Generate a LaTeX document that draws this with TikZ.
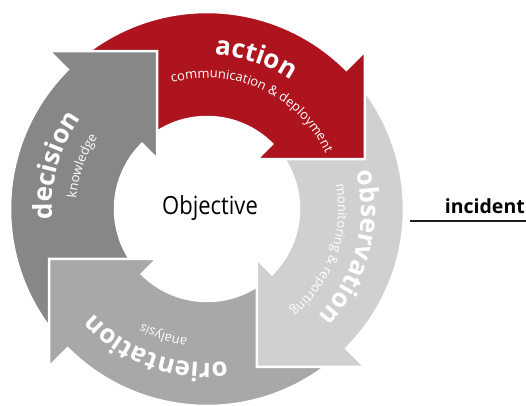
\documentclass[tikz,border=0pt]{standalone}
\usepackage{fontspec}
\usepackage{graphicx}
\setmainfont{Open Sans}
\usetikzlibrary{decorations.text}
\definecolor{actred}{RGB}{174,20,30}
\definecolor{decgray}{RGB}{135,135,135}
\definecolor{origray}{RGB}{168,168,168}
\definecolor{obsgray}{RGB}{208,208,208}
\definecolor{incline}{RGB}{30,30,30}
\newcommand\lblbig{\fontsize{26}{26}\selectfont\bfseries\color{white}}
\newcommand\lblsmall{\fontsize{13}{13}\selectfont\color{white}}
\begin{document}
\begin{tikzpicture}[x=1pt,y=1pt,
  cyclearrow/.style={draw=white, line width=2.5pt, line join=miter},
  bigtxt/.style={decorate, decoration={text along path, text align=center, text={|\lblbig|#1}}},
  smalltxt/.style={decorate, decoration={text along path, text align=center, text={|\lblsmall|#1}}}
]
\useasboundingbox (-207,-196) rectangle (319,209);

% action (red)
\path[fill=actred, cyclearrow] (130:197) arc[start angle=130, end angle=45, radius=197pt]
  -- (45:223.4) -- (17.56:165.7) -- (45:70.7) -- (45:92)
  arc[start angle=45, end angle=130, radius=92pt] -- cycle;
% decision (dark gray)
\path[fill=decgray, cyclearrow] (220:197) arc[start angle=220, end angle=135, radius=197pt]
  -- (135:223.4) -- (107.56:165.7) -- (135:70.7) -- (135:92)
  arc[start angle=135, end angle=220, radius=92pt] -- cycle;
% orientation (medium gray)
\path[fill=origray, cyclearrow] (-50:197) arc[start angle=-50, end angle=-135, radius=197pt]
  -- (-135:223.4) -- (-162.44:165.7) -- (-135:70.7) -- (-135:92)
  arc[start angle=-135, end angle=-50, radius=92pt] -- cycle;
% observation (light gray)
\path[fill=obsgray, cyclearrow] (40:197) arc[start angle=40, end angle=-45, radius=197pt]
  -- (-45:223.4) -- (-72.44:165.7) -- (-45:70.7) -- (-45:92)
  arc[start angle=-45, end angle=40, radius=92pt] -- cycle;
% action head again, on top of the observation tail
\begin{scope}
\clip (0,0) rectangle (330,330);
\path[fill=actred, cyclearrow] (130:197) arc[start angle=130, end angle=45, radius=197pt]
  -- (45:223.4) -- (17.56:165.7) -- (45:70.7) -- (45:92)
  arc[start angle=45, end angle=130, radius=92pt] -- cycle;
\end{scope}

% labels
\path[bigtxt={action}] (142:154) arc[start angle=142, end angle=2, radius=154pt];
\path[smalltxt={communication {\&} deployment}] (160.4:131) arc[start angle=160.4, end angle=-29.6, radius=131pt];
\path[bigtxt={observation}] (55:154) arc[start angle=55, end angle=-85, radius=154pt];
\path[smalltxt={monitoring {\&} reporting}] (55:131) arc[start angle=55, end angle=-95, radius=131pt];
\path[bigtxt={orientation}] (320:154) arc[start angle=320, end angle=180, radius=154pt];
\path[smalltxt={analysis}] (311:131) arc[start angle=311, end angle=191, radius=131pt];
\path[bigtxt={decision}] (234:155) arc[start angle=234, end angle=94, radius=155pt];
\path[smalltxt={knowledge}] (221:131) arc[start angle=221, end angle=101, radius=131pt];

\node[font=\fontsize{25}{25}\selectfont, inner sep=0pt] (obj) at (3,1) {\scalebox{0.88}[1]{Objective}};

\node[font=\fontsize{19.5}{19.5}\selectfont\bfseries, anchor=base east, inner sep=0pt] (inc) at (318,-4) {incident};
\coordinate (lineL) at (203,-12);
\coordinate (lineR) at (319,-12);
\draw[incline, line width=2pt] (lineL) -- (lineR);
\end{tikzpicture}
\end{document}
